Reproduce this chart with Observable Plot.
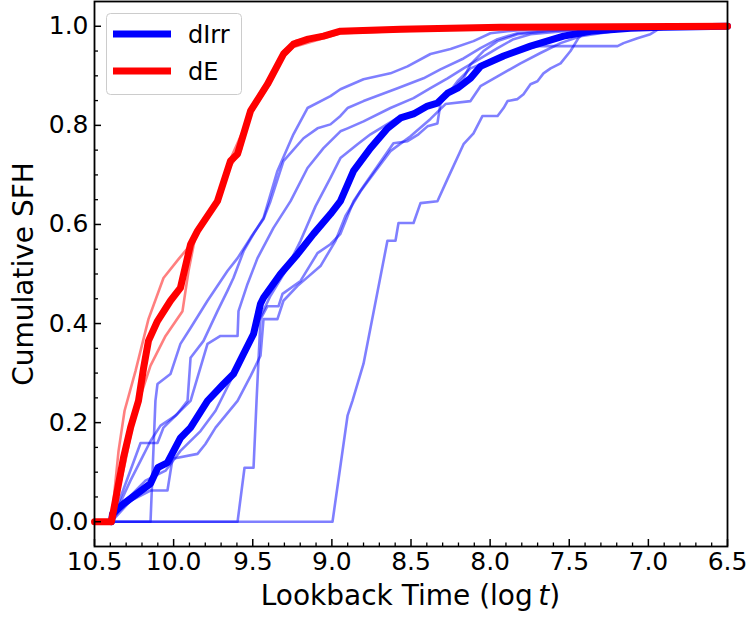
<!DOCTYPE html>
<html><head><meta charset="utf-8">
<script src="https://cdn.jsdelivr.net/npm/d3@7"></script>
<script src="https://cdn.jsdelivr.net/npm/@observablehq/plot@0.6"></script>
<style>body{margin:0;background:#fff;}</style>
</head><body><div id="chart"></div>
<script>
// ---------- data ----------
const xTicks = [10.5, 10.0, 9.5, 9.0, 8.5, 8.0, 7.5, 7.0, 6.5];
const yTicks = [0.0, 0.2, 0.4, 0.6, 0.8, 1.0];
const xLabel = ["Lookback Time (log\u2009", "t", ")"];
const yLabel = "Cumulative SFH";
const legendLabels = ["dIrr", "dE"];

const dEMedian = [[10.5,0],[10.393,0],[10.317,0.129],[10.272,0.19],[10.222,0.244],[10.19,0.31],[10.159,0.365],[10.102,0.405],[10.02,0.446],[9.957,0.472],[9.893,0.56],[9.849,0.587],[9.723,0.647],[9.641,0.728],[9.596,0.742],[9.514,0.829],[9.407,0.883],[9.306,0.944],[9.243,0.964],[9.15,0.974],[9.053,0.98],[8.946,0.99],[8.566,0.994],[7.934,0.998],[6.5,1.0]];

const dEGalaxy1 = [[10.5,0],[10.393,0],[10.348,0.143],[10.31,0.224],[10.241,0.304],[10.159,0.409],[10.064,0.492],[9.969,0.53],[9.912,0.552],[9.849,0.587],[9.723,0.647],[9.641,0.718],[9.577,0.748],[9.514,0.835],[9.407,0.889],[9.306,0.95],[9.23,0.97],[9.053,0.984],[8.946,0.992],[8.25,0.996],[6.5,1.0]];
const dEGalaxy2 = [[10.5,0],[10.393,0],[10.304,0.123],[10.254,0.204],[10.209,0.254],[10.146,0.315],[10.051,0.375],[9.944,0.425],[9.906,0.506],[9.862,0.577],[9.735,0.637],[9.641,0.732],[9.514,0.823],[9.407,0.877],[9.306,0.938],[9.243,0.958],[9.053,0.976],[8.946,0.986],[8.25,0.994],[6.5,1.0]];

const dIrrMedian = [[10.393,0],[10.386,0.016],[10.317,0.036],[10.146,0.077],[10.1,0.109],[10.04,0.119],[9.957,0.169],[9.893,0.19],[9.786,0.244],[9.685,0.278],[9.622,0.298],[9.558,0.339],[9.495,0.379],[9.451,0.44],[9.432,0.452],[9.325,0.5],[9.217,0.54],[9.116,0.581],[9.009,0.621],[8.946,0.647],[8.863,0.708],[8.756,0.754],[8.648,0.794],[8.566,0.815],[8.484,0.823],[8.396,0.839],[8.333,0.845],[8.269,0.865],[8.206,0.875],[8.124,0.895],[8.061,0.919],[7.915,0.94],[7.745,0.96],[7.536,0.98],[7.366,0.99],[7.113,0.996],[6.904,0.998],[6.5,1.0]];

const dIrrGalaxy1 = [[10.393,0],[8.996,0],[8.901,0.214],[8.87,0.244],[8.8,0.319],[8.649,0.567],[8.598,0.567],[8.579,0.603],[8.484,0.603],[8.44,0.643],[8.333,0.647],[8.269,0.692],[8.168,0.762],[8.105,0.784],[8.048,0.819],[7.953,0.819],[7.915,0.835],[7.89,0.849],[7.827,0.853],[7.789,0.863],[7.745,0.883],[7.701,0.889],[7.663,0.905],[7.618,0.915],[7.555,0.925],[7.492,0.95],[7.442,0.976],[7.41,0.986],[7.303,0.994],[6.936,1.0]];
const dIrrGalaxy2 = [[10.393,0],[9.596,0],[9.552,0.109],[9.495,0.109],[9.476,0.244],[9.451,0.409],[9.407,0.435],[9.337,0.435],[9.312,0.46],[9.198,0.486],[9.091,0.542],[9.009,0.56],[8.946,0.581],[8.863,0.647],[8.8,0.677],[8.611,0.764],[8.522,0.768],[8.453,0.782],[8.396,0.798],[8.333,0.804],[8.314,0.843],[8.206,0.889],[8.124,0.915],[8.017,0.929],[7.953,0.933],[7.808,0.95],[7.701,0.96],[7.195,0.96],[7.157,0.966],[7.069,0.976],[6.987,0.984],[6.936,0.994],[6.911,1.0]];
const dIrrGalaxy3 = [[10.393,0],[10.146,0],[10.115,0.244],[10.102,0.278],[10.02,0.298],[9.957,0.359],[9.893,0.391],[9.786,0.446],[9.66,0.506],[9.596,0.532],[9.514,0.573],[9.432,0.611],[9.388,0.647],[9.306,0.728],[9.179,0.774],[9.091,0.794],[9.009,0.802],[8.946,0.819],[8.901,0.835],[8.8,0.849],[8.585,0.875],[8.421,0.895],[8.314,0.913],[8.168,0.935],[8.061,0.956],[7.953,0.974],[7.827,0.986],[7.637,0.992],[7.303,0.998],[7.05,1.0]];
const dIrrGalaxy4 = [[10.393,0],[10.367,0.022],[10.209,0.159],[10.102,0.159],[10.064,0.19],[9.976,0.218],[9.912,0.244],[9.893,0.331],[9.811,0.365],[9.723,0.425],[9.66,0.466],[9.622,0.492],[9.558,0.546],[9.495,0.581],[9.432,0.613],[9.344,0.708],[9.243,0.782],[9.154,0.835],[9.009,0.859],[8.946,0.873],[8.8,0.893],[8.63,0.905],[8.522,0.919],[8.377,0.944],[8.25,0.954],[8.105,0.97],[7.998,0.986],[7.89,0.99],[7.745,0.994],[7.322,0.998],[7.113,1.0]];
const dIrrGalaxy5 = [[10.393,0],[10.273,0.083],[10.203,0.127],[10.146,0.163],[10.083,0.194],[9.988,0.214],[9.893,0.244],[9.786,0.359],[9.704,0.375],[9.596,0.375],[9.59,0.425],[9.533,0.48],[9.47,0.532],[9.369,0.593],[9.261,0.647],[9.154,0.714],[9.053,0.754],[8.946,0.788],[8.901,0.794],[8.8,0.808],[8.63,0.835],[8.484,0.855],[8.377,0.875],[8.269,0.895],[8.168,0.915],[8.061,0.935],[7.953,0.956],[7.852,0.974],[7.745,0.984],[7.536,0.99],[7.176,0.998],[6.987,1.0]];
const dIrrGalaxy6 = [[10.393,0],[10.304,0.042],[10.178,0.083],[10.051,0.103],[9.957,0.143],[9.83,0.183],[9.735,0.224],[9.641,0.284],[9.546,0.345],[9.464,0.405],[9.388,0.456],[9.293,0.506],[9.198,0.567],[9.103,0.637],[9.009,0.694],[8.946,0.734],[8.838,0.762],[8.756,0.782],[8.585,0.815],[8.314,0.849],[8.168,0.895],[8.124,0.923],[8.042,0.95],[7.953,0.97],[7.827,0.984],[7.637,0.99],[7.322,0.996],[7.006,1.0]];
const dIrrGalaxy7 = [[10.393,0],[10.273,0.042],[10.146,0.063],[10.039,0.063],[10.007,0.127],[9.849,0.137],[9.799,0.157],[9.735,0.19],[9.596,0.244],[9.514,0.294],[9.451,0.335],[9.432,0.409],[9.344,0.409],[9.306,0.446],[9.217,0.476],[9.072,0.516],[8.977,0.567],[8.914,0.617],[8.819,0.667],[8.724,0.708],[8.63,0.748],[8.503,0.778],[8.377,0.813],[8.282,0.843],[8.124,0.849],[8.061,0.879],[7.953,0.899],[7.808,0.925],[7.682,0.946],[7.555,0.966],[7.429,0.98],[7.176,0.992],[6.797,1.0]];

// ---------- tables ----------
const toRows = (arr, id) => arr.map(([x, y]) => ({id, x, y}));
const dIrrThin = [dIrrGalaxy1, dIrrGalaxy2, dIrrGalaxy3, dIrrGalaxy4, dIrrGalaxy5, dIrrGalaxy6, dIrrGalaxy7].flatMap((g, i) => toRows(g, "i" + i));
const dEThin = [dEGalaxy1, dEGalaxy2].flatMap((g, i) => toRows(g, "e" + i));
const dIrrMed = toRows(dIrrMedian, "im");
const dEMed = toRows(dEMedian, "em");

const xMinor = d3.range(104, 65, -1).map(d => d / 10).filter(d => Math.round(d * 10) % 5 !== 0);
const yMinor = d3.range(1, 21).map(d => d * 0.05).filter(d => Math.round(d * 20) % 4 !== 0);

const W = 748, H = 617, mL = 94, mR = 21, mT = 1, mB = 71;
const pW = W - mL - mR, pH = H - mT - mB;
const BLUE = "#0000ff", RED = "#ff0000";
const FONT = "DejaVu Sans, sans-serif";

const chart = Plot.plot({
  width: W, height: H,
  marginLeft: mL, marginRight: mR, marginTop: mT, marginBottom: mB,
  style: {fontFamily: FONT, fontSize: "25px", background: "white", color: "black"},
  x: {domain: [10.5, 6.5]},
  y: {domain: [-0.05, 1.05]},
  marks: [
    Plot.line(dIrrThin, {x: "x", y: "y", z: "id", stroke: BLUE, strokeOpacity: 0.5, strokeWidth: 2.6}),
    Plot.line(dEThin, {x: "x", y: "y", z: "id", stroke: RED, strokeOpacity: 0.5, strokeWidth: 2.6}),
    Plot.line(dIrrMed, {x: "x", y: "y", stroke: BLUE, strokeWidth: 7}),
    Plot.line(dEMed, {x: "x", y: "y", stroke: RED, strokeWidth: 7}),
    Plot.tickX(xTicks, {x: d => d, insetTop: pH - 7, stroke: "black", strokeWidth: 1.5}),
    Plot.tickX(xMinor, {x: d => d, insetTop: pH - 3.5, stroke: "black", strokeWidth: 1.3}),
    Plot.tickY(yTicks, {y: d => d, insetRight: pW - 7, stroke: "black", strokeWidth: 1.5}),
    Plot.tickY(yMinor, {y: d => d, insetRight: pW - 4, stroke: "black", strokeWidth: 1.3}),
    Plot.axisX({ticks: xTicks, tickSize: 0, tickPadding: 6, tickFormat: d3.format(".1f"), fontSize: 25, label: null}),
    Plot.axisY({ticks: yTicks, tickSize: 0, tickPadding: 6, tickFormat: d3.format(".1f"), fontSize: 25, label: null}),
    Plot.text([yLabel], {text: d => d, frameAnchor: "left", rotate: -90, dx: -70, fontSize: 28, textAnchor: "middle"}),
    Plot.frame({stroke: "black", strokeWidth: 1.8})
  ]
});
document.getElementById("chart").appendChild(chart);

const svg = d3.select(chart);
// x label with italic t
const xl = svg.append("text")
  .attr("x", mL + pW / 2).attr("y", 605)
  .attr("text-anchor", "middle").attr("font-size", 28).attr("font-family", FONT).attr("fill", "black");
xl.append("tspan").text(xLabel[0]);
xl.append("tspan").attr("font-style", "italic").text(xLabel[1]);
xl.append("tspan").text(xLabel[2]);

// legend
const lg = svg.append("g");
lg.append("rect").attr("x", 106.5).attr("y", 13.5).attr("width", 135).attr("height", 81).attr("rx", 4)
  .attr("fill", "white").attr("fill-opacity", 0.8).attr("stroke", "#cccccc").attr("stroke-width", 1);
[[BLUE, 34], [RED, 71]].forEach(([c, yy], i) => {
  lg.append("line").attr("x1", 113).attr("x2", 171).attr("y1", yy).attr("y2", yy)
    .attr("stroke", c).attr("stroke-width", 7);
  lg.append("text").attr("x", 188).attr("y", yy + 9).attr("font-size", 24).attr("font-family", FONT)
    .attr("text-anchor", "start").attr("fill", "black").text(legendLabels[i]);
});
</script>
</body></html>
